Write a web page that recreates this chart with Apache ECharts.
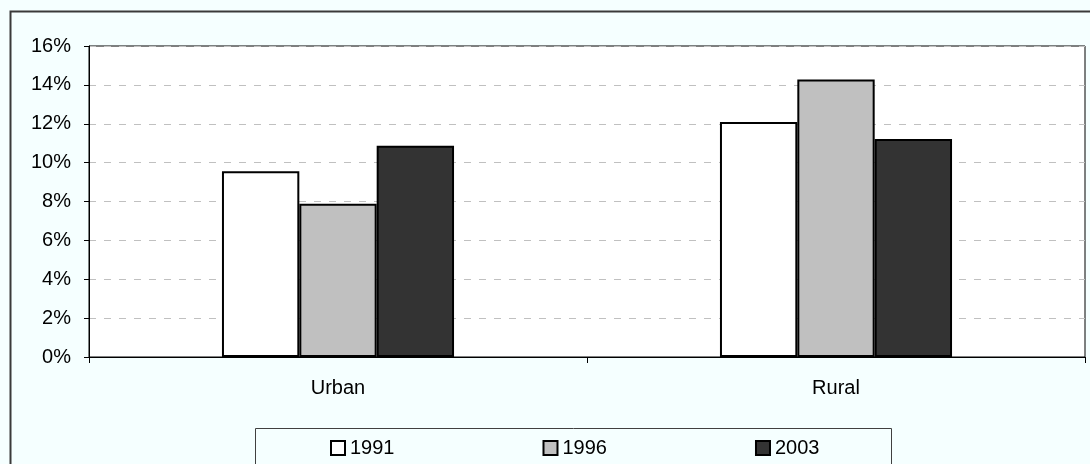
<!DOCTYPE html>
<html>
<head>
<meta charset="utf-8">
<script src="https://cdn.jsdelivr.net/npm/echarts@6/dist/echarts.min.js"></script>
<style>
html,body{margin:0;padding:0;background:#F5FFFF;}
#c{width:1090px;height:464px;}
</style>
</head>
<body>
<div id="c"></div>
<script>
const categories = ['Urban', 'Rural'];
const seriesNames = ['1991', '1996', '2003'];
const values1991 = [0.0955, 0.1209];
const values1996 = [0.0789, 0.1428];
const values2003 = [0.1087, 0.1121];
const yTicks = [0, 0.02, 0.04, 0.06, 0.08, 0.10, 0.12, 0.14, 0.16];
const colors = ['#FFFFFF', '#C0C0C0', '#333333'];

const font = 'Liberation Sans, Arial, sans-serif';
const chart = echarts.init(document.getElementById('c'), null, {renderer: 'canvas'});
const allValues = [values1991, values1996, values2003];

chart.setOption({
  backgroundColor: '#F5FFFF',
  animation: false,
  textStyle: {fontFamily: font},
  graphic: [
    {type: 'rect', shape: {x: 10.5, y: 11.5, width: 1200, height: 600},
     style: {fill: 'none', stroke: '#3a3a3a', lineWidth: 2}, z: 0, silent: true},
    {type: 'rect', shape: {x: 255.5, y: 428.5, width: 636, height: 100},
     style: {fill: '#F5FFFF', stroke: '#404040', lineWidth: 1}, z: 1, silent: true}
  ],
  grid: {left: 89, right: 5, top: 46, bottom: 107, show: true,
         backgroundColor: '#FFFFFF', borderColor: '#000000', borderWidth: 1},
  legend: {
    data: seriesNames,
    left: 330, top: 438,
    itemWidth: 14, itemHeight: 14, itemGap: 148,
    icon: 'rect',
    itemStyle: {borderColor: '#000', borderWidth: 2},
    textStyle: {fontSize: 20, color: '#000', fontFamily: font},
    padding: 0,
    z: 5
  },
  xAxis: {
    type: 'category',
    data: categories,
    axisLine: {lineStyle: {color: '#000', width: 1}},
    axisTick: {show: true, length: 6, lineStyle: {color: '#000'}},
    axisLabel: {fontSize: 20, color: '#000', margin: 21, fontFamily: font},
    splitLine: {show: false}
  },
  yAxis: {
    type: 'value',
    min: 0, max: 0.16, interval: 0.02,
    axisLine: {show: true, lineStyle: {color: '#000', width: 1}},
    axisTick: {show: true, length: 5, lineStyle: {color: '#000'}},
    axisLabel: {fontSize: 20, color: '#000', margin: 18, fontFamily: font,
      formatter: v => { const t = yTicks.find(x => Math.abs(x - v) < 1e-9); return Math.round((t !== undefined ? t : v) * 100) + '%'; }},
    splitLine: {show: true, lineStyle: {color: '#C0C0C0', type: [7, 8], width: 1}}
  },
  series: seriesNames.map((n, i) => ({
    name: n,
    type: 'bar',
    data: allValues[i],
    barGap: '0%',
    barCategoryGap: '53.4%',
    itemStyle: {color: colors[i], borderColor: '#000', borderWidth: 2},
    z: 3
  }))
});
</script>
</body>
</html>
